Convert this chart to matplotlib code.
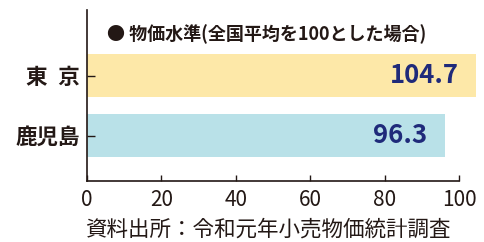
import matplotlib
matplotlib.use("Agg")
import matplotlib.pyplot as plt

plt.rcParams["font.family"] = ["Noto Sans CJK JP", "DejaVu Sans"]

regions = ["東\u2002京", "鹿児島"]
values = [104.7, 96.3]
value_labels = ["104.7", "96.3"]
bar_colors = ["#fde8a8", "#b9e1e8"]
xticks = [0, 20, 40, 60, 80, 100]
title = "● 物価水準(全国平均を100とした場合)"
source = "資料出所：令和元年小売物価統計調査"

ink = "#231815"
navy = "#1f2a7a"

fig = plt.figure(figsize=(4.85, 2.42), dpi=100)
ax = fig.add_axes([0.1794, 0.252, 0.9464 - 0.1794, 0.9587 - 0.252])

ypos = [1, 0]
ax.barh(ypos, values, height=0.717, color=bar_colors, clip_on=False, zorder=1)

for y, v, lab in zip(ypos, values, value_labels):
    ax.annotate(lab, (v, y), xytext=(-13, 0), textcoords="offset points",
                ha="right", va="center", fontsize=18.5, fontweight="bold",
                color=navy, zorder=3, annotation_clip=False)

ax.set_xlim(0, 100)
ax.set_ylim(-0.758, 2.092)
ax.set_xticks(xticks)
ax.set_xticklabels([str(t) for t in xticks], fontsize=15, color=ink)
ax.set_yticks(ypos)
ax.set_yticklabels(regions, fontsize=15.5, fontweight="bold", color=ink)

ax.tick_params(axis="x", direction="in", length=4, width=1, color=ink, pad=6)
ax.tick_params(axis="y", direction="in", length=6, width=1, color=ink, pad=5)

for s in ["top", "right"]:
    ax.spines[s].set_visible(False)
for s in ["left", "bottom"]:
    ax.spines[s].set_color(ink)
    ax.spines[s].set_linewidth(1.2)
    ax.spines[s].set_zorder(4)

ax.text(0.055, 0.858, title, transform=ax.transAxes, fontsize=13,
        color=ink, ha="left", va="center", fontweight="bold")

fig.text(0.5526, 0.052, source, fontsize=15.5, color=ink, ha="center", va="center")

fig.savefig("out.png", dpi=100)
